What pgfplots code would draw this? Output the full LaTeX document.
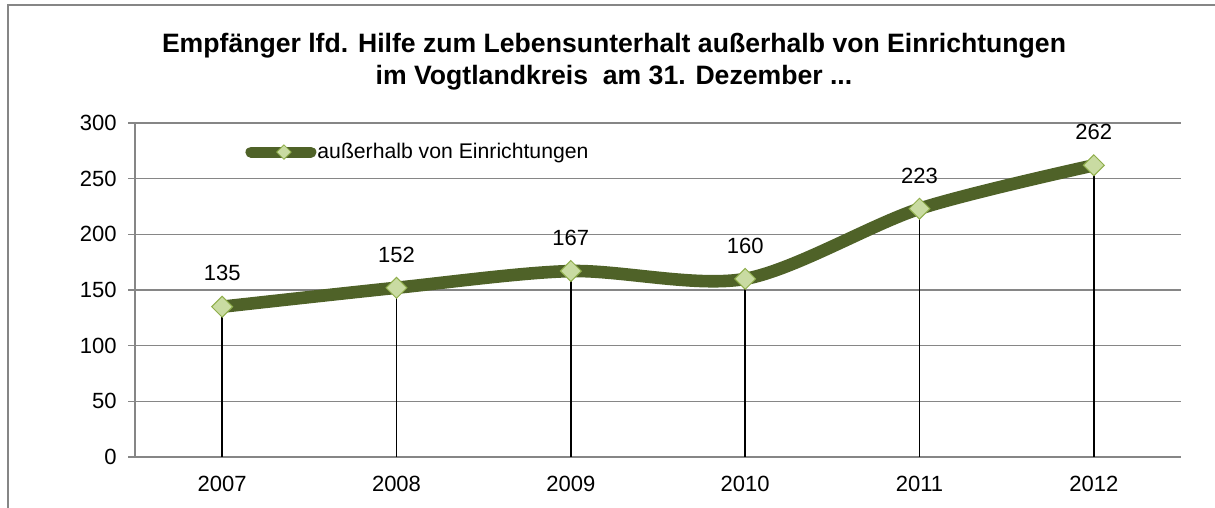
\documentclass[border=0pt]{standalone}
\usepackage{pgfplots}
\pgfplotsset{compat=1.18}
\usepackage{fontspec}
\setmainfont{Liberation Sans}
\definecolor{olivel}{HTML}{4F6228}
\definecolor{gridgray}{HTML}{868686}
\definecolor{mfill}{HTML}{C9DBA2}
\definecolor{medge}{HTML}{8FAE4B}
\begin{document}
\begin{tikzpicture}
\useasboundingbox (0,0) rectangle (607.5pt,254pt);
\draw[gridgray, line width=0.75pt] (4pt,0pt) -- (4pt,251.5pt) -- (607.5pt,251.5pt);
\node[font=\bfseries\fontsize{13.3}{16}\selectfont, align=center] at (307pt,223pt)
  {Empfänger lfd. Hilfe zum Lebensunterhalt außerhalb von Einrichtungen\\im Vogtlandkreis\ \ am 31. Dezember ...};
\begin{axis}[
  at={(67.5pt,25.5pt)}, anchor=south west,
  scale only axis, width=523pt, height=167pt,
  xmin=2006.5, xmax=2012.5, ymin=0, ymax=300,
  axis x line=bottom, axis y line=left,
  axis line style={-, draw=gridgray, line width=0.75pt},
  xtick={2007,2008,2009,2010,2011,2012},
  xticklabels={2007,2008,2009,2010,2011,2012},
  ytick={0,50,100,150,200,250,300},
  ymajorgrids, major grid style={gridgray, line width=0.75pt},
  tick align=outside, major tick length=3.5pt,
  ytick style={gridgray, line width=0.75pt},
  xtick style={draw=none},
  tick label style={font=\fontsize{11}{13}\selectfont, black},
  /pgf/number format/assume math mode=true,
  y tick label style={inner sep=0pt, xshift=-5.5pt},
  x tick label style={inner sep=0pt, yshift=-6pt},
  legend style={at={(0.1052,0.913)}, anchor=west, draw=none, fill=none, inner sep=0pt,
    font=\fontsize{10.6}{12}\selectfont, nodes={inner xsep=0.5pt, inner ysep=0pt}},
  legend cell align=left,
  legend image code/.code={
    \draw[olivel, line width=5.5pt, line cap=round] (0pt,0pt) -- (30pt,0pt);
    \draw[fill=mfill, draw=medge, line width=0.4pt] (16.5pt,3.6pt) -- (20.1pt,0pt) -- (16.5pt,-3.6pt) -- (12.9pt,0pt) -- cycle;
  },
]
\addplot[olivel, line width=6.3pt, line cap=round, smooth, tension=0.5,
  mark=square*, mark size=3.7pt,
  mark options={rotate=45, fill=mfill, draw=medge, line width=0.5pt, solid},
  nodes near coords,
  every node near coord/.append style={black, font=\fontsize{11}{13}\selectfont, anchor=south, inner sep=0pt, yshift=12.5pt},
  ] coordinates {(2007,135) (2008,152) (2009,167) (2010,160) (2011,223) (2012,262)};
\addlegendentry{außerhalb von Einrichtungen}
\addplot[black, line width=0.75pt, ycomb, no marks, forget plot]
  coordinates {(2007,135) (2008,152) (2009,167) (2010,160) (2011,223) (2012,262)};
\end{axis}
\end{tikzpicture}
\end{document}
